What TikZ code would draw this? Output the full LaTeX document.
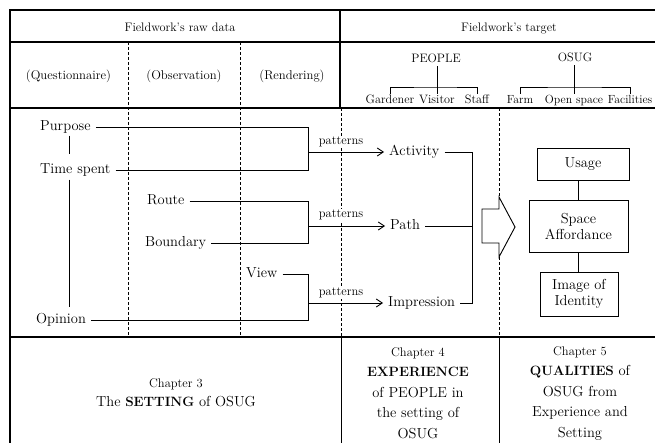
\documentclass[tikz,border=0pt]{standalone}
\usepackage{fontspec}
\usetikzlibrary{arrows.meta}
\begin{document}
\begin{tikzpicture}[x=1pt,y=-1pt,
  lbl/.style={font=\fontsize{14.5}{16}\selectfont, inner xsep=5pt, inner ysep=2pt, text height=10pt, text depth=3pt},
  hdr/.style={font=\fontsize{12.3}{14}\selectfont, inner sep=0pt, anchor=base},
  colhdr/.style={font=\fontsize{12.7}{14}\selectfont, inner sep=0pt, anchor=base},
  sub/.style={font=\fontsize{12.2}{14}\selectfont, inner sep=1pt},
  subs/.style={font=\fontsize{11.8}{14}\selectfont, inner sep=1pt},
  grp/.style={font=\fontsize{12.2}{14}\selectfont, inner sep=1pt, anchor=base},
  pat/.style={font=\fontsize{12.5}{14}\selectfont, fill=white, inner sep=1pt},
  box/.style={draw, line width=0.9pt, font=\fontsize{14.5}{16}\selectfont, align=center, inner sep=0pt},
  frame/.style={line width=2.5pt},
  rule/.style={line width=2.2pt},
  thinrule/.style={line width=1.2pt},
  dotl/.style={line width=0.8pt, dash pattern=on 3pt off 2pt},
  conn/.style={line width=0.9pt},
  arr/.style={conn, -{Straight Barb[length=6pt,width=8pt]}},
  chap/.style={align=center, inner sep=0pt, anchor=north}
]
\useasboundingbox (0,0) rectangle (655,443);

% frame and rules
\draw[frame] (10,443) -- (10,10) -- (660,10);
\draw[thinrule] (10,42) -- (660,42);
\draw[rule] (10,108) -- (660,108);
\draw[rule] (10,337) -- (660,337);
\draw[rule] (340,10) -- (340,108);
\draw[conn] (341,337) -- (341,443);
\draw[conn] (499,337) -- (499,443);

% dotted dividers
\draw[dotl] (128,42) -- (128,337);
\draw[dotl] (240,42) -- (240,337);
\draw[dotl] (341,108) -- (341,337);
\draw[dotl] (499,108) -- (499,197);
\draw[dotl] (499,257) -- (499,337);

% header texts
\node[hdr] (rawdata) at (180,32) {Fieldwork's raw data};
\node[hdr] (target) at (509,32) {Fieldwork's target};
\node[colhdr] (quest) at (68.5,80) {(Questionnaire)};
\node[colhdr] (obs) at (184,80) {(Observation)};
\node[colhdr] (rend) at (292,80) {(Rendering)};

% PEOPLE tree
\node[grp] (people) at (436,63) {PEOPLE};
\node[sub, anchor=north] (gardener) at (390,94) {Gardener};
\node[sub, anchor=north] (visitor) at (437,94) {Visitor};
\node[sub, anchor=north] (staff) at (477,94) {Staff};
\coordinate (pbar) at (437,87);
\draw[conn] (gardener.north) |- (pbar) -| (staff.north);
\draw[conn, shorten <=2pt] (people.south -| visitor.north) -- (visitor.north);

% OSUG tree
\node[grp] (osug) at (575,62) {OSUG};
\node[subs, anchor=north] (farm) at (520,94) {Farm};
\node[subs, anchor=north] (openspace) at (574,94) {Open space};
\node[subs, anchor=north] (facil) at (630,94) {Facilities};
\coordinate (obar) at (574,87);
\draw[conn] (farm.north) |- (obar) -| (facil.north);
\draw[conn, shorten <=2pt] (osug.south -| openspace.north) -- (openspace.north);

% raw data labels
\node[lbl, anchor=west] (purpose) at (35,127) {Purpose};
\node[lbl, anchor=west] (timespent) at (35,170) {Time spent};
\node[lbl, anchor=west] (opinion) at (31,320) {Opinion};
\node[lbl, anchor=west] (route) at (142,201) {Route};
\node[lbl, anchor=west] (boundary) at (140,243) {Boundary};
\node[lbl, anchor=west] (view) at (241,274) {View};

\coordinate (lx) at (69,0);
\draw[conn, shorten >=7pt] (purpose.south -| lx) -- (timespent.north -| lx);
\draw[conn, shorten <=1pt, shorten >=4pt] (timespent.south -| lx) -- (opinion.north -| lx);

% experience labels
\node[lbl, anchor=west] (activity) at (384,152) {Activity};
\node[lbl, anchor=west] (path) at (385,226) {Path};
\node[lbl, anchor=west] (impression) at (383,303) {Impression};

\coordinate (j1) at (308,152);
\coordinate (j2) at (308,226);
\coordinate (j3) at (308,303);
\draw[conn] (purpose.east) -| (j1);
\draw[conn] (timespent.east) -| (j1);
\draw[conn] (route.east) -| (j2);
\draw[conn] (boundary.east) -| (j2);
\draw[conn] (view.east) -| (j3);
\draw[conn] (opinion.east) -| (j3);
\draw[arr] (j1) -- (activity.west);
\draw[arr] (j2) -- (path.west);
\draw[arr] (j3) -- (impression.west);
\node[pat] (pat1) at (341,142) {patterns};
\node[pat] (pat2) at (341,215) {patterns};
\node[pat] (pat3) at (341,293) {patterns};

\coordinate (k) at (472,226);
\draw[conn] (activity.east) -| (k);
\draw[conn] (impression.east) -| (k);
\draw[conn] (path.east) -- (k);

% block arrow
\draw[conn, fill=white] (482,209) -- (499,209) -- (499,197) -- (515,227) -- (499,257) -- (499,243) -- (482,243) -- cycle;

% qualities boxes
\node[box, minimum width=92pt, minimum height=32pt] (usage) at (583,164) {Usage};
\node[box, minimum width=99pt, minimum height=52pt] (space) at (578.5,226) {Space\\Affordance};
\node[box, minimum width=78pt, minimum height=44pt] (identity) at (579,294) {Image of\\Identity};
\draw[conn] (usage.south -| space.north) -- (space.north);
\draw[conn] (space.south) -- (identity.north -| space.south);

% chapters
\node[chap, font=\fontsize{14.5}{19}\selectfont] (ch3) at (176,378)
  {{\fontsize{12.5}{19}\selectfont Chapter 3}\\The {\fontsize{13.5}{19}\selectfont\bfseries SETTING} of OSUG};
\node[chap, font=\fontsize{14.5}{20.5}\selectfont] (ch4) at (418,347)
  {{\fontsize{12.5}{20.5}\selectfont Chapter 4}\\{\fontsize{13.5}{20.5}\selectfont\bfseries EXPERIENCE}\\of PEOPLE in\\the setting of\\OSUG};
\node[chap, font=\fontsize{14.5}{20.5}\selectfont] (ch5) at (580,346)
  {{\fontsize{12.5}{20.5}\selectfont Chapter 5}\\{\fontsize{13.5}{20.5}\selectfont\bfseries QUALITIES} of\\OSUG from\\Experience and\\Setting};
\end{tikzpicture}
\end{document}
